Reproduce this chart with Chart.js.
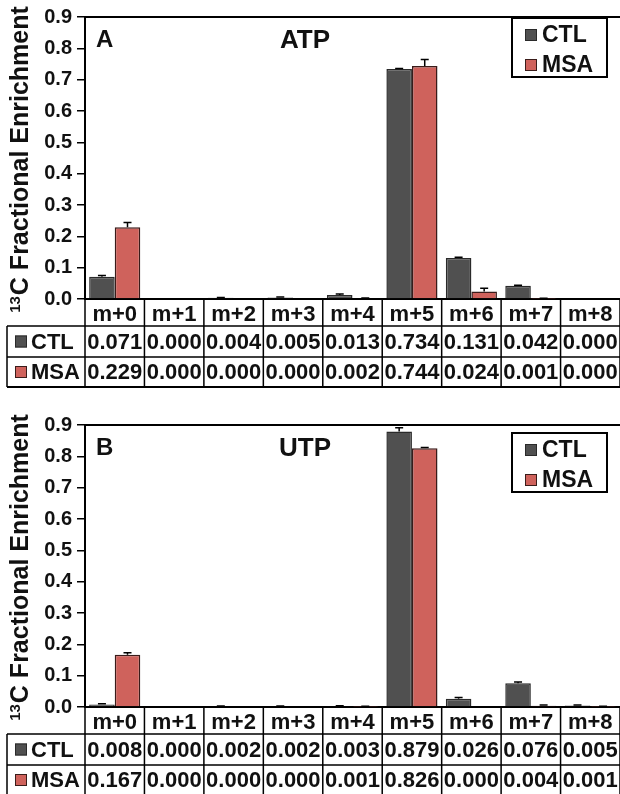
<!DOCTYPE html>
<html>
<head>
<meta charset="utf-8">
<script src="https://cdn.jsdelivr.net/npm/chart.js@4.4.1/dist/chart.umd.min.js"></script>
<style>
  body { margin:0; background:#fff; overflow:hidden; }
  .panel { position:absolute; left:0; width:620px; height:392px; }
</style>
</head>
<body>
<div class="panel" style="top:0px"><canvas id="chartA"></canvas></div>
<div class="panel" style="top:408px"><canvas id="chartB"></canvas></div>
<script>
// values
const massLabels = ['m+0','m+1','m+2','m+3','m+4','m+5','m+6','m+7','m+8'];
const atpCTL = [0.071,0.000,0.004,0.005,0.013,0.734,0.131,0.042,0.000];
const atpMSA = [0.229,0.000,0.000,0.000,0.002,0.744,0.024,0.001,0.000];
const utpCTL = [0.008,0.000,0.002,0.002,0.003,0.879,0.026,0.076,0.005];
const utpMSA = [0.167,0.000,0.000,0.000,0.001,0.826,0.000,0.004,0.001];
// error bars
const atpCTLerr = [0.004,0,0.001,0.001,0.003,0.002,0.002,0.002,0];
const atpMSAerr = [0.015,0,0,0,0.001,0.020,0.010,0.001,0];
const utpCTLerr = [0.002,0,0.001,0.001,0.001,0.012,0.004,0.004,0.001];
const utpMSAerr = [0.006,0,0,0,0.001,0.002,0,0.002,0.001];
const seriesNames = ['CTL','MSA'];
const seriesColors = ['#505050','#cf625c'];
const seriesBorders = ['#2a2a2a','#3a1c1a'];

const FONT = "'Liberation Sans', Arial, sans-serif";

const errorBars = {
  id:'errorBars',
  afterDatasetsDraw(chart) {
    const ctx = chart.ctx, y = chart.scales.y;
    ctx.save();
    ctx.strokeStyle = '#000';
    ctx.lineWidth = 1.5;
    chart.data.datasets.forEach((ds, i) => {
      const meta = chart.getDatasetMeta(i);
      meta.data.forEach((bar, j) => {
        let e = ds.errors[j];
        if (!e) return;
        let top = y.getPixelForValue(ds.data[j] + e);
        ctx.beginPath();
        ctx.moveTo(bar.x, bar.y);
        ctx.lineTo(bar.x, top);
        ctx.moveTo(bar.x - 4, top);
        ctx.lineTo(bar.x + 4, top);
        ctx.stroke();
      });
    });
    ctx.restore();
  }
};

const panelDecor = {
  id:'panelDecor',
  afterDraw(chart, args, opts) {
    const ctx = chart.ctx, area = chart.chartArea, xs = chart.scales.x;
    const ds = chart.data.datasets;
    ctx.save();
    ctx.fillStyle = '#111';
    ctx.strokeStyle = '#000';

    // frame top
    ctx.lineWidth = 2;
    ctx.beginPath();
    ctx.moveTo(area.left, area.top); ctx.lineTo(area.right, area.top);
    ctx.stroke();

    // panel letter + title
    ctx.textBaseline = 'middle';
    ctx.textAlign = 'left';
    ctx.font = 'bold 24px ' + FONT;
    ctx.fillText(opts.letter, 96, area.top + 23);
    ctx.textAlign = 'center';
    ctx.font = 'bold 26px ' + FONT;
    ctx.fillText(opts.title, 305, area.top + 24);

    // y title
    ctx.save();
    ctx.translate(21, (area.top + area.bottom) / 2 + 2);
    ctx.rotate(-Math.PI / 2);
    ctx.font = 'bold 15px ' + FONT;
    let supW = ctx.measureText('13').width;
    ctx.font = 'bold 25px ' + FONT;
    let mainTxt = 'C Fractional Enrichment';
    let mainW = ctx.measureText(mainTxt).width;
    let start = -(supW + mainW) / 2;
    ctx.textAlign = 'left';
    ctx.fillText(mainTxt, start + supW + 1, 0);
    ctx.font = 'bold 15px ' + FONT;
    ctx.fillText('13', start, -5);
    ctx.restore();

    // legend
    let lt = area.top + opts.legendTop;
    ctx.lineWidth = 2;
    ctx.strokeRect(512, lt, 95, 59);
    ds.forEach((d, i) => {
      let cy = lt + 17 + i * 30;
      ctx.fillStyle = d.backgroundColor;
      ctx.fillRect(525, cy - 6, 12, 12);
      ctx.lineWidth = 1;
      ctx.strokeStyle = d.borderColor;
      ctx.strokeRect(525.5, cy - 5.5, 11, 11);
      ctx.fillStyle = '#111';
      ctx.font = 'bold 23px ' + FONT;
      ctx.textAlign = 'left';
      ctx.fillText(d.label, 542, cy + 1);
    });

    // data table under the axis
    const n = chart.data.labels.length;
    const colW = (area.right - area.left) / n;
    const rowH = [27, 31, 30];
    const t0 = area.bottom;
    const t1 = t0 + rowH[0], t2 = t1 + rowH[1], t3 = t2 + rowH[2];
    ctx.strokeStyle = '#000';
    ctx.lineWidth = 1.5;
    ctx.beginPath();
    for (let k = 0; k <= n; k++) {
      let xx = area.left + k * colW;
      ctx.moveTo(xx, t0); ctx.lineTo(xx, t3);
    }
    ctx.moveTo(7, t1); ctx.lineTo(area.right, t1);
    ctx.moveTo(7, t2); ctx.lineTo(area.right, t2);
    ctx.moveTo(7, t1); ctx.lineTo(7, t3);
    ctx.stroke();
    ctx.lineWidth = 2;
    ctx.beginPath();
    ctx.moveTo(7, t3); ctx.lineTo(area.right, t3);
    ctx.stroke();

    ctx.fillStyle = '#111';
    ctx.textAlign = 'center';
    ctx.font = 'bold 22px ' + FONT;
    chart.data.labels.forEach((lab, j) => {
      let cx = xs.getPixelForValue(j);
      ctx.fillText(lab, cx, (t0 + t1) / 2 + 2);
      ctx.fillText(ds[0].data[j].toFixed(3), cx, (t1 + t2) / 2 + 1);
      ctx.fillText(ds[1].data[j].toFixed(3), cx, (t2 + t3) / 2 + 1);
    });
    [[t1, t2], [t2, t3]].forEach((r, i) => {
      let cy = (r[0] + r[1]) / 2;
      ctx.fillStyle = ds[i].backgroundColor;
      ctx.fillRect(15, cy - 6, 12, 12);
      ctx.lineWidth = 1;
      ctx.strokeStyle = ds[i].borderColor;
      ctx.strokeRect(15.5, cy - 5.5, 11, 11);
      ctx.fillStyle = '#111';
      ctx.textAlign = 'left';
      ctx.fillText(ds[i].label, 31, cy + 1);
    });
    ctx.restore();
  }
};

function makeChart(id, letter, title, ctl, msa, ctlErr, msaErr, legendTop) {
  return new Chart(document.getElementById(id), {
    type: 'bar',
    data: {
      labels: massLabels,
      datasets: [
        { label: seriesNames[0], data: ctl, errors: ctlErr,
          backgroundColor: seriesColors[0], borderColor: seriesBorders[0], borderWidth: 1.5 },
        { label: seriesNames[1], data: msa, errors: msaErr,
          backgroundColor: seriesColors[1], borderColor: seriesBorders[1], borderWidth: 1.5 }
      ]
    },
    options: {
      responsive: true,
      maintainAspectRatio: false,
      animation: false,
      devicePixelRatio: 1,
      layout: { padding: { top: 17, bottom: 93, left: 0, right: 0 } },
      datasets: { bar: { categoryPercentage: 0.86, barPercentage: 1.0 } },
      plugins: {
        legend: { display: false },
        tooltip: { enabled: false },
        panelDecor: { letter: letter, title: title, legendTop: legendTop }
      },
      scales: {
        x: {
          grid: { display: false },
          ticks: { display: false },
          border: { display: true, color: '#000', width: 2 },
          afterFit(s) { s.height = 0; }
        },
        y: {
          min: 0, max: 0.9,
          ticks: { stepSize: 0.1, padding: 5, color: '#111',
                   font: { family: FONT, size: 20, weight: 'bold' },
                   callback: v => v.toFixed(1) },
          grid: { drawOnChartArea: false, drawTicks: true, tickLength: 8, color: '#000', lineWidth: 1.5 },
          border: { display: true, color: '#000', width: 2 },
          afterFit(s) { s.width = 85; }
        }
      }
    },
    plugins: [errorBars, panelDecor]
  });
}

makeChart('chartA', 'A', 'ATP', atpCTL, atpMSA, atpCTLerr, atpMSAerr, 1);
makeChart('chartB', 'B', 'UTP', utpCTL, utpMSA, utpCTLerr, utpMSAerr, 8);
</script>
</body>
</html>
